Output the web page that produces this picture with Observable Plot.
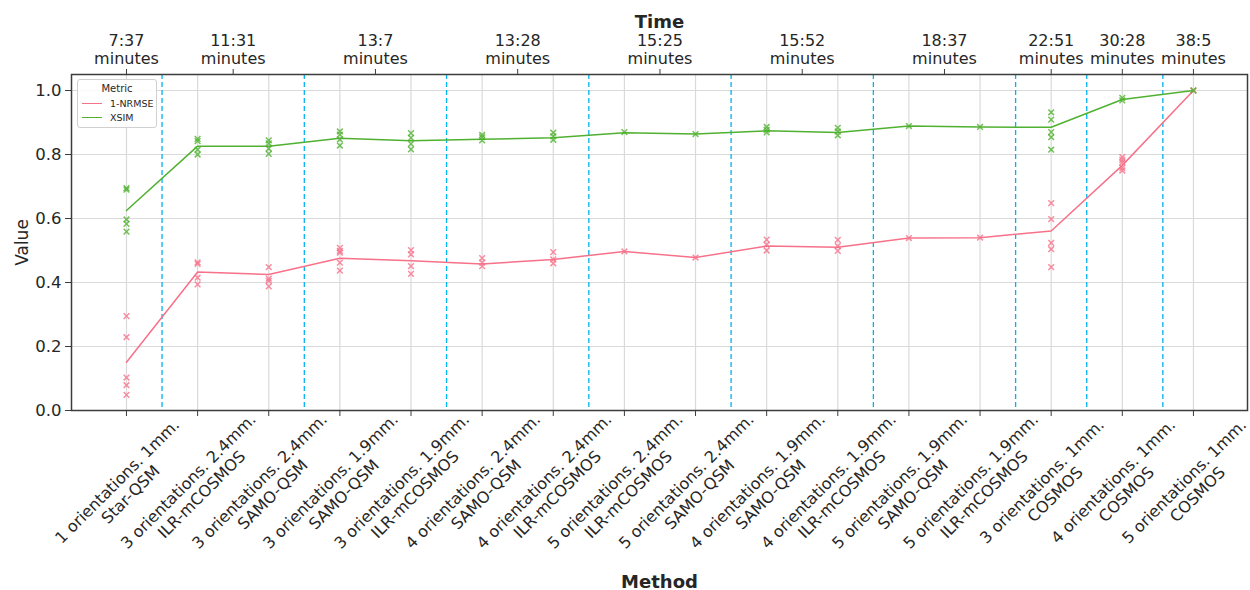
<!DOCTYPE html>
<html>
<head>
<meta charset="utf-8">
<script src="https://cdn.jsdelivr.net/npm/d3@7"></script>
<script src="https://cdn.jsdelivr.net/npm/@observablehq/plot@0.6"></script>
<style>
  html, body { margin: 0; padding: 0; background: #fff; }
  #wrap { position: relative; width: 1250px; height: 590px; font-family: "DejaVu Sans", sans-serif; }
  #legend { position: absolute; left: 77px; top: 79px; width: 80px; height: 49px; box-sizing: border-box;
            border: 1px solid #d0d0d0; border-radius: 3px; background: rgba(255,255,255,0.85); font-size: 9.5px; color: #262626; }
  #legend .title { text-align: center; font-size: 10px; margin-top: 3px; height: 13px; }
  #legend .row { display: flex; align-items: center; height: 14.5px; }
  #legend .sw { width: 20px; height: 0; border-top: 1.5px solid; margin-left: 4px; margin-right: 8px; }
</style>
</head>
<body>
<div id="wrap"><div id="chart"></div><div id="legend"></div></div>
<script>
// ---- data ----
const categories = [
  "1 orientations. 1mm.\nStar-QSM",
  "3 orientations. 2.4mm.\nILR-mCOSMOS",
  "3 orientations. 2.4mm.\nSAMO-QSM",
  "3 orientations. 1.9mm.\nSAMO-QSM",
  "3 orientations. 1.9mm.\nILR-mCOSMOS",
  "4 orientations. 2.4mm.\nSAMO-QSM",
  "4 orientations. 2.4mm.\nILR-mCOSMOS",
  "5 orientations. 2.4mm.\nILR-mCOSMOS",
  "5 orientations. 2.4mm.\nSAMO-QSM",
  "4 orientations. 1.9mm.\nSAMO-QSM",
  "4 orientations. 1.9mm.\nILR-mCOSMOS",
  "5 orientations. 1.9mm.\nSAMO-QSM",
  "5 orientations. 1.9mm.\nILR-mCOSMOS",
  "3 orientations. 1mm.\nCOSMOS",
  "4 orientations. 1mm.\nCOSMOS",
  "5 orientations. 1mm.\nCOSMOS"
];
const metrics = ["1-NRMSE", "XSIM"];
const metricColors = ["#f77189", "#50b131"];

const nrmseMean = [0.151, 0.433, 0.425, 0.476, 0.468, 0.458, 0.472, 0.497, 0.478, 0.514, 0.510, 0.539, 0.540, 0.561, 0.766, 1.0];
const xsimMean  = [0.625, 0.826, 0.826, 0.851, 0.843, 0.848, 0.852, 0.868, 0.864, 0.874, 0.869, 0.889, 0.886, 0.885, 0.972, 1.0];

const nrmsePoints = [
  [0.295, 0.229, 0.103, 0.079, 0.049],
  [0.463, 0.458, 0.415, 0.394],
  [0.448, 0.412, 0.405, 0.388],
  [0.508, 0.499, 0.493, 0.462, 0.437],
  [0.501, 0.488, 0.451, 0.427],
  [0.476, 0.462, 0.451],
  [0.495, 0.472, 0.460],
  [0.497],
  [0.478],
  [0.534, 0.518, 0.500],
  [0.533, 0.514, 0.499],
  [0.539],
  [0.540],
  [0.648, 0.598, 0.524, 0.504, 0.448],
  [0.792, 0.783, 0.775, 0.758, 0.750],
  [1.0]
];
const xsimPoints = [
  [0.695, 0.690, 0.597, 0.583, 0.559],
  [0.849, 0.842, 0.815, 0.800],
  [0.844, 0.835, 0.818, 0.802],
  [0.872, 0.862, 0.847, 0.828],
  [0.867, 0.852, 0.833, 0.816],
  [0.861, 0.854, 0.844],
  [0.868, 0.857, 0.846],
  [0.870],
  [0.864],
  [0.886, 0.877, 0.869],
  [0.883, 0.872, 0.860],
  [0.889],
  [0.886],
  [0.932, 0.909, 0.870, 0.854, 0.815],
  [0.977, 0.969],
  [1.0]
];

const dividers = [0.5, 2.5, 4.5, 6.5, 8.5, 10.5, 12.5, 13.5, 14.57];
const timeTicks = [0, 1.5, 3.5, 5.5, 7.5, 9.5, 11.5, 13, 14, 15];
const timeLabels = ["7:37", "11:31", "13:7", "13:28", "15:25", "15:52", "18:37", "22:51", "30:28", "38:5"];
const yTicks = [0, 0.2, 0.4, 0.6, 0.8, 1.0];

// ---- tables built from arrays ----
const catIndex = categories.map((_, i) => i);
const lineRows = [];
catIndex.forEach(i => lineRows.push({i, value: nrmseMean[i], metric: metrics[0]}));
catIndex.forEach(i => lineRows.push({i, value: xsimMean[i], metric: metrics[1]}));
const pointRows = [];
nrmsePoints.forEach((arr, i) => arr.forEach(v => pointRows.push({i, value: v, metric: metrics[0]})));
xsimPoints.forEach((arr, i) => arr.forEach(v => pointRows.push({i, value: v, metric: metrics[1]})));

const ink = "#262626";

const chart = Plot.plot({
  width: 1250,
  height: 590,
  marginLeft: 71,
  marginRight: 3,
  marginTop: 74,
  marginBottom: 180,
  style: {fontFamily: "DejaVu Sans, sans-serif", color: ink, background: "#fff", overflow: "visible"},
  x: {type: "linear", domain: [-0.773, 15.76], axis: null},
  y: {domain: [0, 1.05], axis: null},
  color: {domain: metrics, range: metricColors},
  marks: [
    Plot.gridY(yTicks, {stroke: "#dadada", strokeOpacity: 1, strokeWidth: 1.2}),
    Plot.gridX(catIndex, {stroke: "#dadada", strokeOpacity: 1, strokeWidth: 1.2}),
    Plot.ruleX(dividers, {stroke: "#00b4f0", strokeWidth: 1.3, strokeDasharray: "5,3"}),
    Plot.line(lineRows, {x: "i", y: "value", stroke: "metric", z: "metric", strokeWidth: 1.5}),
    Plot.dot(pointRows, {x: "i", y: "value", stroke: "metric", symbol: "times", r: 2.7, strokeWidth: 1.5, strokeOpacity: 0.8}),
    Plot.frame({stroke: "#3c3c3c", strokeWidth: 1.5}),
    // y axis
    Plot.axisY(yTicks, {anchor: "left", tickSize: 6, tickPadding: 4, tickFormat: d => d.toFixed(1), fontSize: 16.5, stroke: "#3c3c3c", fill: ink, label: null}),
    Plot.text(["Value"], {frameAnchor: "left", dx: -49, rotate: -90, textAnchor: "middle", lineAnchor: "middle", fontSize: 17, fill: ink}),
    // bottom axis
    Plot.axisX(catIndex, {anchor: "bottom", tickSize: 6, tickFormat: () => "", stroke: "#3c3c3c", label: null}),
    Plot.text(catIndex, {x: d => d, text: d => categories[d], frameAnchor: "bottom", dx: -3, dy: 77, rotate: -45,
                         textAnchor: "middle", lineAnchor: "middle", fontSize: 16, lineHeight: 1.17, fill: ink}),
    Plot.text(["Method"], {frameAnchor: "bottom", dy: 172, lineAnchor: "middle", textAnchor: "middle", fontSize: 18, fontWeight: "bold", fill: ink}),
    // top axis
    Plot.axisX(timeTicks, {anchor: "top", tickSize: 6, tickPadding: 5, lineHeight: 1.1, fontSize: 16, stroke: "#3c3c3c", fill: ink,
                           tickFormat: d => timeLabels[timeTicks.indexOf(d)] + "\nminutes", label: null}),
    Plot.text(["Time"], {frameAnchor: "top", dy: -52, lineAnchor: "middle", textAnchor: "middle", fontSize: 18, fontWeight: "bold", fill: ink})
  ]
});
document.getElementById("chart").appendChild(chart);

// legend
const legend = document.getElementById("legend");
legend.innerHTML = `<div class="title">Metric</div>` + metrics.map((m, k) =>
  `<div class="row"><div class="sw" style="border-color:${metricColors[k]}"></div><span>${m}</span></div>`).join("");
</script>
</body>
</html>
